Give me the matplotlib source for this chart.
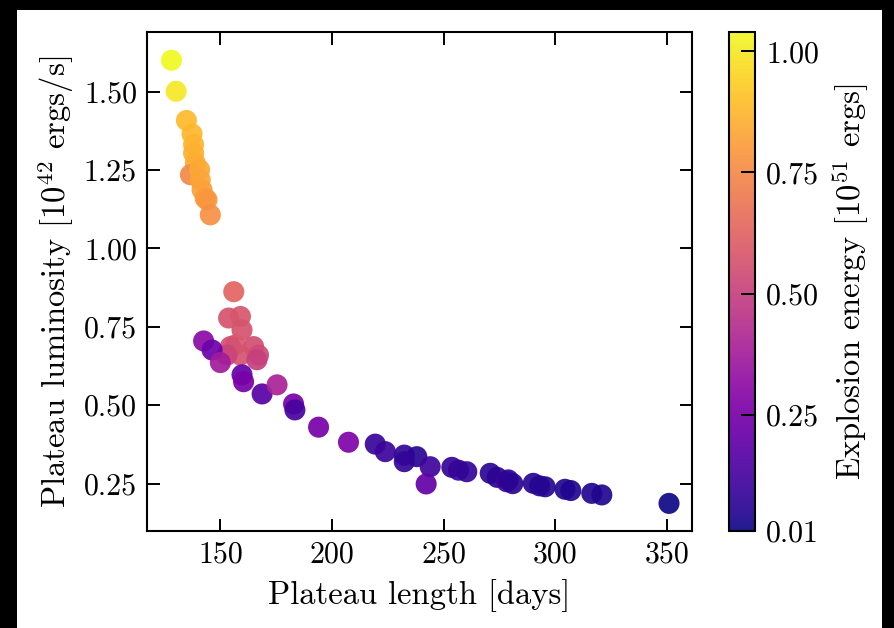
import matplotlib
matplotlib.use("Agg")
import matplotlib.pyplot as plt
from matplotlib.patches import Rectangle
import numpy as np

plt.rcParams["font.family"] = "serif"
plt.rcParams["font.serif"] = ["cmr10", "DejaVu Serif"]
plt.rcParams["mathtext.fontset"] = "cm"
plt.rcParams["axes.formatter.use_mathtext"] = True

# Plateau length [days]
plateau_days = [
    128.1, 130.2, 134.8, 137.3, 138.0, 138.0, 138.8, 136.6, 140.7, 141.0,
    141.8, 143.2, 144.0, 145.5,
    156.0, 153.7, 159.0, 159.7, 156.7, 154.5, 164.9, 159.0, 153.0, 167.1,
    166.4,
    142.5, 146.3, 150.0, 159.7, 160.4, 168.7, 175.4, 182.8, 183.4,
    194.0, 207.4, 219.4, 223.9, 232.4, 238.0, 232.4, 244.0, 242.2, 253.7,
    256.7, 260.4, 270.9, 274.0, 278.3, 279.0, 281.0, 290.2, 293.0, 295.5,
    304.4, 307.0, 316.4, 320.9, 351.0,
]

# Plateau luminosity [1e42 ergs/s]
plateau_lum = [
    1.600, 1.501, 1.408, 1.365, 1.331, 1.304, 1.272, 1.235, 1.251, 1.219,
    1.187, 1.160, 1.155, 1.107,
    0.862, 0.778, 0.783, 0.740, 0.692, 0.687, 0.687, 0.660, 0.660, 0.660,
    0.645,
    0.705, 0.676, 0.636, 0.597, 0.575, 0.536, 0.565, 0.504, 0.485,
    0.430, 0.382, 0.376, 0.352, 0.341, 0.336, 0.320, 0.304, 0.249, 0.302,
    0.293, 0.288, 0.283, 0.270, 0.256, 0.262, 0.250, 0.251, 0.243, 0.240,
    0.232, 0.228, 0.219, 0.214, 0.187,
]

# Explosion energy [1e51 ergs]
explosion_energy = [
    1.04, 1.00, 0.89, 0.88, 0.87, 0.86, 0.85, 0.75, 0.84, 0.83,
    0.82, 0.80, 0.79, 0.77,
    0.63, 0.57, 0.58, 0.57, 0.59, 0.56, 0.55, 0.57, 0.52, 0.54,
    0.50,
    0.30, 0.22, 0.37, 0.20, 0.25, 0.17, 0.40, 0.25, 0.13,
    0.25, 0.27, 0.09, 0.10, 0.08, 0.06, 0.08, 0.11, 0.20, 0.08,
    0.09, 0.08, 0.07, 0.06, 0.12, 0.07, 0.06, 0.06, 0.05, 0.05,
    0.05, 0.04, 0.04, 0.04, 0.01,
]

cbar_ticks = [0.01, 0.25, 0.50, 0.75, 1.00]
x_ticks = [150, 200, 250, 300, 350]
y_ticks = [0.25, 0.50, 0.75, 1.00, 1.25, 1.50]

W, H = 894, 628
fig = plt.figure(figsize=(W / 100, H / 100), dpi=100)
fig.patch.set_facecolor("black")
fig.patches.append(Rectangle((17 / W, 0), (882 - 17) / W, (H - 10) / H,
                             transform=fig.transFigure, facecolor="white",
                             edgecolor="none", zorder=-10))

ax_l, ax_r, ax_t, ax_b = 146.7, 692.0, 32.0, 531.0
ax = fig.add_axes([ax_l / W, 1 - ax_b / H, (ax_r - ax_l) / W, (ax_b - ax_t) / H])
cax = fig.add_axes([729 / W, 1 - ax_b / H, 26 / W, (ax_b - ax_t) / H])

sc = ax.scatter(plateau_days, plateau_lum, c=explosion_energy, cmap="plasma",
                vmin=min(explosion_energy), vmax=max(explosion_energy),
                s=230, linewidths=0, alpha=0.92)

ax.set_xlim(117, 361.3)
ax.set_ylim(0.099, 1.69)
ax.set_xticks(x_ticks)
ax.set_yticks(y_ticks)
ax.set_xticklabels([str(v) for v in x_ticks])
ax.set_yticklabels([f"{v:.2f}" for v in y_ticks])
ax.tick_params(direction="in", length=9, width=1.4, top=True, right=True,
               labelsize=21.5, pad=7)
for sp in ax.spines.values():
    sp.set_linewidth(1.5)

ax.set_xlabel("Plateau length [days]", fontsize=23.5, labelpad=8)
ax.set_ylabel(r"Plateau luminosity [$10^{42}$ ergs/s]", fontsize=23.5, labelpad=6)

cb = fig.colorbar(sc, cax=cax)
cb.set_ticks(cbar_ticks)
cb.set_ticklabels([f"{v:.2f}" for v in cbar_ticks])
cb.ax.tick_params(direction="in", length=10, width=1.4, labelsize=21.5, pad=8)
cb.outline.set_linewidth(1.5)
cb.set_label(r"Explosion energy [$10^{51}$ ergs]", fontsize=23.5, labelpad=8)

fig.savefig("out.png", dpi=100, facecolor=fig.get_facecolor())
